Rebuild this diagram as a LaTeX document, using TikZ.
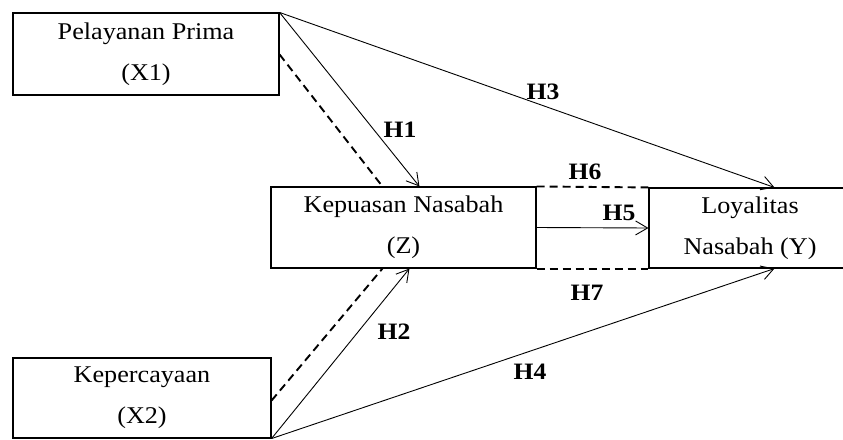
\documentclass[tikz,border=0pt]{standalone}
\usepackage{fontspec}
\setmainfont[FakeStretch=1.09]{Liberation Serif}
\usetikzlibrary{arrows.meta,calc}
\begin{document}
\begin{tikzpicture}[x=1pt,y=-1pt,
  box/.style={draw,line width=1.1pt,rectangle,inner sep=0pt,align=center,
    font=\fontsize{24}{41}\selectfont,execute at begin node={\rule{0pt}{24pt}}},
  solidarrow/.style={line width=0.9pt,-{Straight Barb[length=12pt,width=14pt,line width=0.9pt]}},
  dashline/.style={line width=1.9pt,dash pattern=on 8pt off 5pt},
  hlabel/.style={font=\fontsize{23.5}{26}\selectfont\bfseries,inner sep=0pt}]
\useasboundingbox (0,0) rectangle (843,439);
\clip (0,0) rectangle (843,439);
\node[box,minimum width=266pt,minimum height=82pt] (x1) at (146,54) {Pelayanan Prima\\(X1)};
\node[box,minimum width=258pt,minimum height=80pt] (x2) at (142,398) {Kepercayaan\\(X2)};
\node[box,minimum width=265pt,minimum height=81pt] (z) at (403.5,227.5) {Kepuasan Nasabah\\(Z)};
\node[box,minimum width=202pt,minimum height=80pt] (y) at (750,228) {Loyalitas\\Nasabah (Y)};

\draw[solidarrow] (x1.north east) -- ($(y.north west)+(126,0)$);
\draw[solidarrow] (x1.north east) -- ($(z.north west)+(149,0)$);
\draw[dashline] ($(x1.north east)+(0,42)$) -- ($(z.north west)+(112,0)$);
\draw[solidarrow] (x2.south east) -- ($(z.south west)+(139,0)$);
\draw[dashline] ($(x2.south east)+(0,-38)$) -- ($(z.south west)+(112,0)$);
\draw[solidarrow] (x2.south east) -- ($(y.south west)+(126,0)$);
\draw[solidarrow] (z.east) -- (y.west);
\draw[dashline] (z.north east) -- (y.north west);
\draw[dashline] (z.south east) -- (y.south west);

\node[hlabel] (h1) at (400,130) {H1};
\node[hlabel] (h2) at (394,332) {H2};
\node[hlabel] (h3) at (543,92) {H3};
\node[hlabel] (h4) at (530,372) {H4};
\node[hlabel] (h5) at (619,213) {H5};
\node[hlabel] (h6) at (585,172) {H6};
\node[hlabel] (h7) at (587,293) {H7};
\end{tikzpicture}
\end{document}
